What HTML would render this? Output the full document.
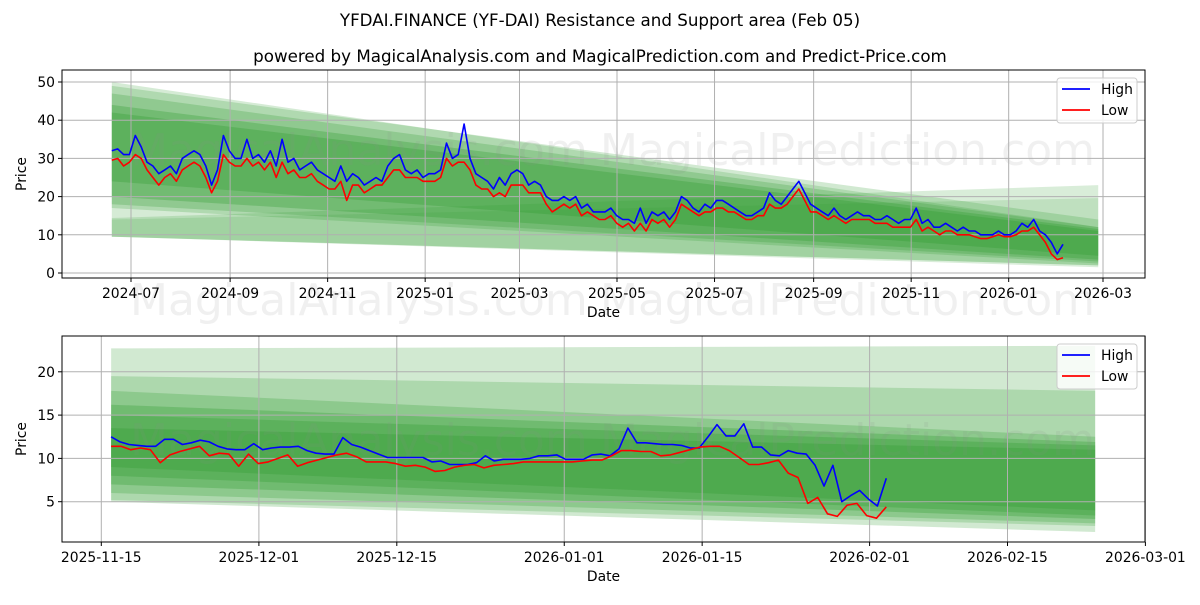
<!DOCTYPE html>
<html><head><meta charset="utf-8"><style>
body{margin:0;background:#fff;}
svg text{font-family:"DejaVu Sans","Liberation Sans",sans-serif;}
</style></head><body>
<svg id="c" width="1200" height="600" xmlns="http://www.w3.org/2000/svg"></svg>
<script>
const topHigh=[32,32.5,31,31,36,33,29,28,26,27,28,26,30,31,32,31,28,23,27,36,32,30,30,35,30,31,29,32,28,35,29,30,27,28,29,27,26,25,24,28,24,26,25,23,24,25,24,28,30,31,27,26,27,25,26,26,27,34,30,31,39,30,26,25,24,22,25,23,26,27,26,23,24,23,20,19,19,20,19,20,17,18,16,16,16,17,15,14,14,13,17,13,16,15,16,14,16,20,19,17,16,18,17,19,19,18,17,16,15,15,16,17,21,19,18,20,22,24,21,18,17,16,15,17,15,14,15,16,15,15,14,14,15,14,13,14,14,17,13,14,12,12,13,12,11,12,11,11,10,10,10,11,10,10,11,13,12,14,11,10,8,5,7.5];
const topLow=[29.5,30,28,29,31,30,27,25,23,25,26,24,27,28,29,28,25,21,24,31,29,28,28,30,28,29,27,29,25,29,26,27,25,25,26,24,23,22,22,24,19,23,23,21,22,23,23,25,27,27,25,25,25,24,24,24,25,30,28,29,29,27,23,22,22,20,21,20,23,23,23,21,21,21,18,16,17,18,17,18,15,16,15,14,14,15,13,12,13,11,13,11,14,13,14,12,14,18,17,16,15,16,16,17,17,16,16,15,14,14,15,15,18,17,17,18,20,22,19,16,16,15,14,15,14,13,14,14,14,14,13,13,13,12,12,12,12,14,11,12,11,10,11,11,10,10,10,9.5,9,9,9.5,10,9.5,9.5,10,11,11,12,10,8,5,3.5,4];
const botHigh=[12.5,11.9,11.6,11.5,11.4,11.4,12.2,12.2,11.6,11.8,12.1,11.9,11.4,11.1,11.0,11.0,11.7,11.0,11.2,11.3,11.3,11.4,10.9,10.6,10.5,10.5,12.4,11.6,11.3,10.9,10.5,10.1,10.1,10.1,10.1,10.1,9.6,9.7,9.3,9.3,9.3,9.5,10.3,9.7,9.9,9.9,9.9,10.0,10.3,10.3,10.4,9.9,9.9,9.9,10.4,10.5,10.3,11.1,13.5,11.8,11.8,11.7,11.6,11.6,11.5,11.2,11.2,12.5,13.9,12.6,12.6,14.0,11.3,11.3,10.4,10.3,10.9,10.6,10.5,9.2,6.8,9.2,5.0,5.7,6.3,5.3,4.5,7.7];
const botLow=[11.4,11.4,11.0,11.2,11.0,9.5,10.4,10.8,11.1,11.4,10.3,10.6,10.5,9.1,10.5,9.4,9.6,10.0,10.4,9.1,9.5,9.8,10.1,10.4,10.6,10.2,9.6,9.6,9.6,9.4,9.1,9.2,9.0,8.5,8.6,9.0,9.2,9.3,8.9,9.2,9.3,9.4,9.6,9.6,9.6,9.6,9.6,9.6,9.7,9.8,9.8,10.3,10.9,10.9,10.8,10.8,10.3,10.4,10.7,11.0,11.3,11.4,11.4,10.9,10.1,9.3,9.3,9.5,9.8,8.3,7.8,4.8,5.5,3.6,3.3,4.6,4.8,3.4,3.1,4.4];
const topYTicks=[0,10,20,30,40,50];
const topXTicks=["2024-07","2024-09","2024-11","2025-01","2025-03","2025-05","2025-07","2025-09","2025-11","2026-01","2026-03"];
const botYTicks=[5,10,15,20];
const botXTicks=["2025-11-15","2025-12-01","2025-12-15","2026-01-01","2026-01-15","2026-02-01","2026-02-15","2026-03-01"];
// fans: [topStart, topEnd, botStart, botEnd, alpha]
const topFans=[[50,12,9.5,2,.2],[49,14,17,2.5,.22],[47,12,18,3,.25],[44,11.5,20,3.5,.3],[42,11,24,4.5,.3],[14.4,23,9.5,1.5,.18],[14,19.6,9.5,2,.15]];
const botFans=[[22.7,23,5,1.5,.22],[19.5,17.8,5.2,2.2,.22],[17.8,12.5,6,2.5,.25],[16.2,11.9,7,3,.3],[15,11.5,8,3.4,.3],[13.5,11,9,4,.3]];

const svg=document.getElementById('c');const NS="http://www.w3.org/2000/svg";
function el(t,a,txt){const e=document.createElementNS(NS,t);for(const k in a)e.setAttribute(k,a[k]);if(txt!=null)e.textContent=txt;svg.appendChild(e);return e;}
function day(s){const p=s.split('-').map(Number);return Date.UTC(p[0],p[1]-1,p[2]||1)/864e5;}

function panel(o){
  const X=d=>o.x0+(d-o.d0)*o.pxd, Y=v=>o.yz-v*o.pyv;
  el('rect',{x:o.L,y:o.T,width:o.R-o.L,height:o.B-o.T,fill:'#fff'});
  const xs=X(o.s0), xe=X(o.s1);
  o.fans.forEach((f,i)=>{const p=el('polygon',{points:`${xs},${Y(f[0])} ${xe},${Y(f[1])} ${xe},${Y(f[3])} ${xs},${Y(f[2])}`,fill:'#2e9a2e','fill-opacity':f[4]});
    });
  o.wm.forEach(w=>{const t=el('text',{x:w[0],y:w[1],'font-size':44,fill:'#888','fill-opacity':.13},w[2]);});
  o.yt.forEach(v=>{const y=Y(v);el('line',{x1:o.L,x2:o.R,y1:y,y2:y,stroke:'#b0b0b0','stroke-width':1});el('line',{x1:o.L-4,x2:o.L,y1:y,y2:y,stroke:'#000'});
    const t=el('text',{x:o.L-7,y:y+5,'font-size':13.9,'text-anchor':'end'},v);});
  o.xt.forEach(s=>{const x=X(day(s));el('line',{x1:x,x2:x,y1:o.T,y2:o.B,stroke:'#b0b0b0','stroke-width':1});el('line',{x1:x,x2:x,y1:o.B,y2:o.B+4,stroke:'#000'});
    const t=el('text',{x:x,y:o.B+20,'font-size':13.9,'text-anchor':'middle'},s);});
  [[o.hi,'#0000ff','high-line'],[o.lo,'#ff0000','low-line']].forEach(([a,c,n])=>{
    const st=(o.s1d-o.s0d)/(a.length-1);
    const pts=a.map((v,i)=>`${X(o.s0d+i*st).toFixed(1)},${Y(v).toFixed(1)}`).join(' ');
    const p=el('polyline',{points:pts,fill:'none',stroke:c,'stroke-width':1.6,'stroke-linejoin':'round'});});
  const f=el('rect',{x:o.L,y:o.T,width:o.R-o.L,height:o.B-o.T,fill:'none',stroke:'#000','stroke-width':1});
  const xl=el('text',{x:(o.L+o.R)/2,y:o.B+39,'font-size':13.9,'text-anchor':'middle'},'Date');
  const yl=el('text',{x:0,y:0,'font-size':13.9,'text-anchor':'middle',transform:`translate(26,${(o.T+o.B)/2}) rotate(-90)`},'Price');
  const lg=el('rect',{x:1057,y:o.T+8,width:80,height:45,fill:'#fff','fill-opacity':.8,stroke:'#ccc',rx:3});
  [['High','#0000ff',o.T+19],['Low','#ff0000',o.T+40]].forEach(([n,c,y])=>{el('line',{x1:1062,x2:1090,y1:y,y2:y,stroke:c,'stroke-width':1.8});
    const t=el('text',{x:1101,y:y+5,'font-size':13.9},n);});
}
const t1=el('text',{x:600,y:26,'font-size':16.7,'text-anchor':'middle'},'YFDAI.FINANCE (YF-DAI) Resistance and Support area (Feb 05)');
const t2=el('text',{x:600,y:62,'font-size':16.7,'text-anchor':'middle'},'powered by MagicalAnalysis.com and MagicalPrediction.com and Predict-Price.com');
panel({L:62,R:1145,T:70,B:278,x0:131,d0:day('2024-07-01'),pxd:1.5987,yz:273,pyv:3.82,yt:topYTicks,xt:topXTicks,fans:topFans,
  s0:day('2024-06-19'),s1:day('2026-02-26'),s0d:day('2024-06-19'),s1d:day('2026-02-04'),hi:topHigh,lo:topLow,
  wm:[[130,165,'MagicalAnalysis.com'],[600,165,'MagicalPrediction.com'],[130,315,'MagicalAnalysis.com'],[600,315,'MagicalPrediction.com']]});
panel({L:62,R:1145,T:336,B:542,x0:101.3,d0:day('2025-11-15'),pxd:9.85,yz:545,pyv:8.66,yt:botYTicks,xt:botXTicks,fans:botFans,
  s0:day('2025-11-16'),s1:day('2025-11-15')+100.9,s0d:day('2025-11-16'),s1d:day('2025-11-15')+79.7,hi:botHigh,lo:botLow,
  wm:[[130,455,'MagicalAnalysis.com'],[600,455,'MagicalPrediction.com']]});
</script>
</body></html>
